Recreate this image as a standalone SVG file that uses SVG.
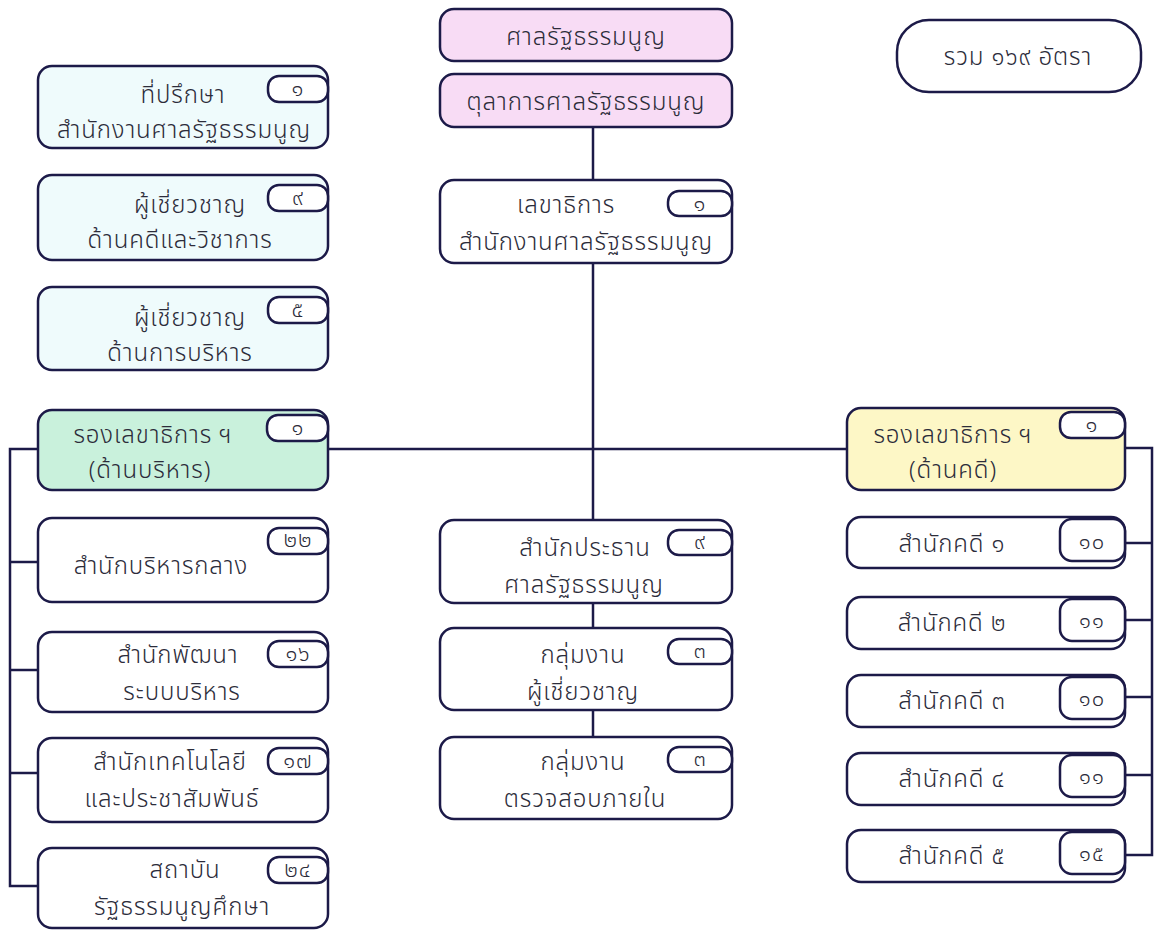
<svg xmlns="http://www.w3.org/2000/svg" width="1154" height="933" viewBox="0 0 1154 933">
<style>
.box{stroke:#1c1a48;stroke-width:2.5}
.w{fill:#ffffff}
.pink{fill:#f8dcf5}
.blue{fill:#effbfc}
.green{fill:#c9f1dc}
.yellow{fill:#fdf7c6}
.badge{fill:#ffffff;stroke:#1c1a48;stroke-width:2.5}
.ln{stroke:#1c1a48;stroke-width:2.5;fill:none}
text{font-family:"Noto Sans Thai","Noto Sans","DejaVu Sans",sans-serif;font-size:24px;font-weight:300;letter-spacing:0.9px;fill:#2c2c3a;text-anchor:middle}
.n{font-size:22px;letter-spacing:1px}
</style>
<rect width="1154" height="933" fill="#ffffff"/>
<g id="connectors">
<line class="ln" x1="593" y1="127" x2="593" y2="180"/>
<line class="ln" x1="593" y1="263" x2="593" y2="520"/>
<line class="ln" x1="593" y1="603" x2="593" y2="628"/>
<line class="ln" x1="593" y1="710" x2="593" y2="737"/>
<line class="ln" x1="328" y1="449" x2="847" y2="449"/>
<polyline class="ln" points="38,449 10,449 10,886 38,886"/>
<line class="ln" x1="10" y1="562" x2="38" y2="562"/>
<line class="ln" x1="10" y1="670" x2="38" y2="670"/>
<line class="ln" x1="10" y1="773" x2="38" y2="773"/>
<polyline class="ln" points="1125,448 1152,448 1152,855 1125,855"/>
<line class="ln" x1="1125" y1="543" x2="1152" y2="543"/>
<line class="ln" x1="1125" y1="620" x2="1152" y2="620"/>
<line class="ln" x1="1125" y1="697" x2="1152" y2="697"/>
<line class="ln" x1="1125" y1="775" x2="1152" y2="775"/>
</g>
<g id="total">
<rect class="box w" x="897" y="20" width="244" height="72" rx="32"/>
<text x="1018" y="65">รวม ๑๖๙ อัตรา</text>
</g>
<g id="court">
<rect class="box pink" x="440" y="9" width="292" height="52" rx="14"/>
<text x="586" y="45">ศาลรัฐธรรมนูญ</text>
</g>
<g id="judges">
<rect class="box pink" x="440" y="74" width="292" height="53" rx="14"/>
<text x="586" y="110">ตุลาการศาลรัฐธรรมนูญ</text>
</g>
<g id="secgen">
<rect class="box w" x="440" y="180" width="292" height="83" rx="14"/>
<rect class="badge" x="668" y="191" width="64" height="25" rx="11"/>
<text class="n" x="700" y="211">๑</text>
<text x="566" y="213">เลขาธิการ</text>
<text x="586" y="250">สำนักงานศาลรัฐธรรมนูญ</text>
</g>
<g id="advisor">
<rect class="box blue" x="38" y="66" width="290" height="82" rx="14"/>
<rect class="badge" x="268" y="76" width="60" height="26" rx="11"/>
<text class="n" x="298" y="96">๑</text>
<text x="183" y="103">ที่ปรึกษา</text>
<text x="184" y="138">สำนักงานศาลรัฐธรรมนูญ</text>
</g>
<g id="expert-case">
<rect class="box blue" x="38" y="175" width="290" height="85" rx="14"/>
<rect class="badge" x="268" y="185" width="60" height="26" rx="11"/>
<text class="n" x="298" y="205">๙</text>
<text x="190" y="213">ผู้เชี่ยวชาญ</text>
<text x="180" y="248">ด้านคดีและวิชาการ</text>
</g>
<g id="expert-admin">
<rect class="box blue" x="38" y="287" width="290" height="83" rx="14"/>
<rect class="badge" x="268" y="297" width="60" height="26" rx="11"/>
<text class="n" x="298" y="317">๕</text>
<text x="190" y="326">ผู้เชี่ยวชาญ</text>
<text x="180" y="361">ด้านการบริหาร</text>
</g>
<g id="deputy-admin">
<rect class="box green" x="38" y="410" width="290" height="80" rx="14"/>
<rect class="badge" x="267" y="415" width="61" height="26" rx="11"/>
<text class="n" x="298" y="435">๑</text>
<text x="153" y="443">รองเลขาธิการ ฯ</text>
<text x="150" y="478">(ด้านบริหาร)</text>
</g>
<g id="central-admin">
<rect class="box w" x="38" y="518" width="290" height="84" rx="14"/>
<rect class="badge" x="268" y="528" width="60" height="26" rx="11"/>
<text class="n" x="298" y="547">๒๒</text>
<text x="161" y="574">สำนักบริหารกลาง</text>
</g>
<g id="admin-dev">
<rect class="box w" x="38" y="632" width="290" height="80" rx="14"/>
<rect class="badge" x="268" y="641" width="60" height="26" rx="11"/>
<text class="n" x="298" y="661">๑๖</text>
<text x="178" y="663">สำนักพัฒนา</text>
<text x="182" y="700">ระบบบริหาร</text>
</g>
<g id="tech-pr">
<rect class="box w" x="38" y="738" width="290" height="84" rx="14"/>
<rect class="badge" x="268" y="748" width="60" height="26" rx="11"/>
<text class="n" x="298" y="768">๑๗</text>
<text x="170" y="770">สำนักเทคโนโลยี</text>
<text x="172" y="807">และประชาสัมพันธ์</text>
</g>
<g id="institute">
<rect class="box w" x="38" y="848" width="290" height="80" rx="14"/>
<rect class="badge" x="268" y="857" width="60" height="26" rx="11"/>
<text class="n" x="298" y="877">๒๔</text>
<text x="185" y="878">สถาบัน</text>
<text x="182" y="915">รัฐธรรมนูญศึกษา</text>
</g>
<g id="president-office">
<rect class="box w" x="440" y="520" width="292" height="83" rx="14"/>
<rect class="badge" x="668" y="530" width="64" height="25" rx="11"/>
<text class="n" x="700" y="549">๙</text>
<text x="585" y="556">สำนักประธาน</text>
<text x="584" y="593">ศาลรัฐธรรมนูญ</text>
</g>
<g id="expert-group">
<rect class="box w" x="440" y="628" width="292" height="82" rx="14"/>
<rect class="badge" x="668" y="639" width="64" height="25" rx="11"/>
<text class="n" x="700" y="658">๓</text>
<text x="583" y="663">กลุ่มงาน</text>
<text x="583" y="700">ผู้เชี่ยวชาญ</text>
</g>
<g id="audit-group">
<rect class="box w" x="440" y="737" width="292" height="82" rx="14"/>
<rect class="badge" x="668" y="747" width="64" height="25" rx="11"/>
<text class="n" x="700" y="766">๓</text>
<text x="583" y="770">กลุ่มงาน</text>
<text x="585" y="807">ตรวจสอบภายใน</text>
</g>
<g id="deputy-case">
<rect class="box yellow" x="847" y="408" width="278" height="82" rx="14"/>
<rect class="badge" x="1060" y="412" width="65" height="26" rx="11"/>
<text class="n" x="1092" y="432">๑</text>
<text x="953" y="443">รองเลขาธิการ ฯ</text>
<text x="953" y="478">(ด้านคดี)</text>
</g>
<g id="case1">
<rect class="box w" x="847" y="517" width="278" height="51" rx="14"/>
<rect class="badge" x="1060" y="519" width="65" height="42" rx="12"/>
<text class="n" x="1092" y="549">๑๐</text>
<text x="952" y="552">สำนักคดี ๑</text>
</g>
<g id="case2">
<rect class="box w" x="847" y="597" width="278" height="52" rx="14"/>
<rect class="badge" x="1060" y="599" width="65" height="42" rx="12"/>
<text class="n" x="1092" y="628">๑๑</text>
<text x="952" y="631">สำนักคดี ๒</text>
</g>
<g id="case3">
<rect class="box w" x="847" y="675" width="278" height="52" rx="14"/>
<rect class="badge" x="1060" y="677" width="65" height="42" rx="12"/>
<text class="n" x="1092" y="706">๑๐</text>
<text x="952" y="709">สำนักคดี ๓</text>
</g>
<g id="case4">
<rect class="box w" x="847" y="753" width="278" height="52" rx="14"/>
<rect class="badge" x="1060" y="755" width="65" height="42" rx="12"/>
<text class="n" x="1092" y="784">๑๑</text>
<text x="952" y="787">สำนักคดี ๔</text>
</g>
<g id="case5">
<rect class="box w" x="847" y="830" width="278" height="52" rx="14"/>
<rect class="badge" x="1060" y="832" width="65" height="42" rx="12"/>
<text class="n" x="1092" y="861">๑๕</text>
<text x="952" y="864">สำนักคดี ๕</text>
</g>
</svg>
